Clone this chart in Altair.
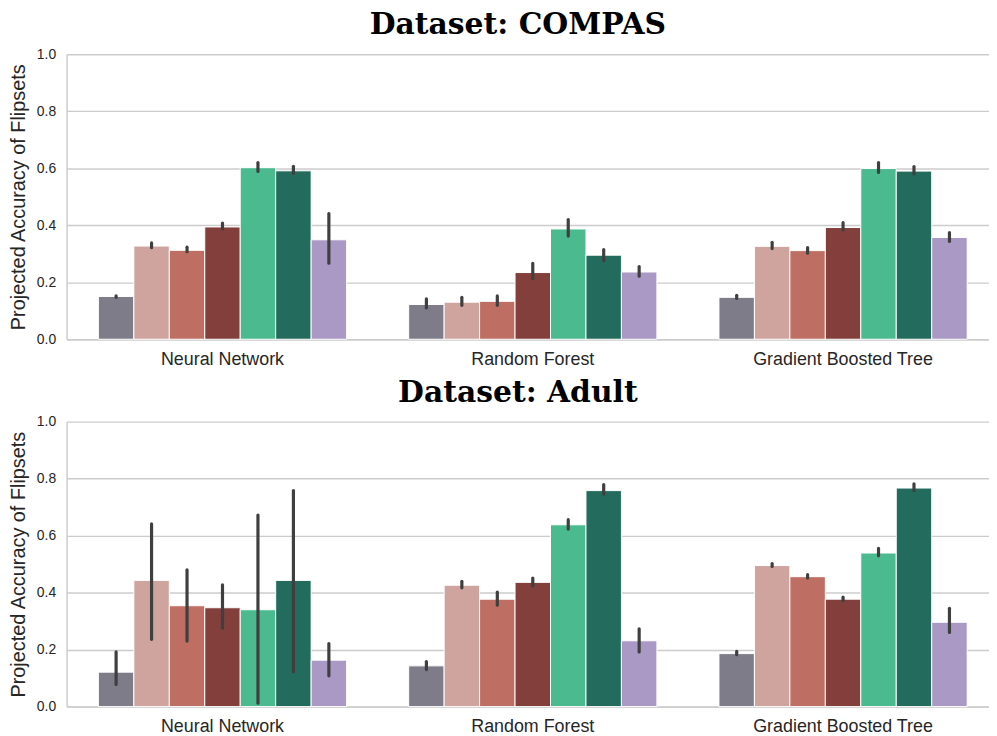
import altair as alt
import pandas as pd

models = ["Neural Network", "Random Forest", "Gradient Boosted Tree"]
series = ["M1", "M2", "M3", "M4", "M5", "M6", "M7"]
colors = ["#7f7c8a", "#cfa49f", "#be6e63", "#823f3b", "#4bbb8f", "#236b5c", "#aa98c5"]
y_ticks = [0.0, 0.2, 0.4, 0.6, 0.8, 1.0]

# Dataset: COMPAS
compas_nn_mean = [0.150, 0.327, 0.312, 0.394, 0.602, 0.591, 0.349]
compas_nn_lo = [0.147, 0.321, 0.307, 0.387, 0.589, 0.582, 0.267]
compas_nn_hi = [0.152, 0.338, 0.323, 0.408, 0.620, 0.607, 0.441]
compas_rf_mean = [0.122, 0.130, 0.133, 0.234, 0.387, 0.295, 0.236]
compas_rf_lo = [0.110, 0.119, 0.119, 0.213, 0.362, 0.276, 0.221]
compas_rf_hi = [0.142, 0.147, 0.152, 0.266, 0.420, 0.315, 0.255]
compas_gb_mean = [0.147, 0.326, 0.311, 0.392, 0.599, 0.590, 0.357]
compas_gb_lo = [0.143, 0.318, 0.302, 0.384, 0.585, 0.580, 0.343]
compas_gb_hi = [0.154, 0.340, 0.322, 0.409, 0.620, 0.606, 0.374]

# Dataset: Adult
adult_nn_mean = [0.121, 0.443, 0.354, 0.347, 0.340, 0.443, 0.163]
adult_nn_lo = [0.078, 0.236, 0.230, 0.275, 0.012, 0.122, 0.108]
adult_nn_hi = [0.192, 0.641, 0.480, 0.427, 0.672, 0.758, 0.221]
adult_rf_mean = [0.143, 0.426, 0.377, 0.436, 0.638, 0.758, 0.231]
adult_rf_lo = [0.130, 0.417, 0.356, 0.424, 0.623, 0.746, 0.192]
adult_rf_hi = [0.158, 0.440, 0.402, 0.451, 0.656, 0.779, 0.273]
adult_gb_mean = [0.186, 0.495, 0.456, 0.377, 0.539, 0.767, 0.296]
adult_gb_lo = [0.182, 0.492, 0.451, 0.372, 0.529, 0.758, 0.260]
adult_gb_hi = [0.194, 0.502, 0.463, 0.384, 0.555, 0.782, 0.345]


def build(groups):
    rows = []
    for model, (mean, lo, hi) in zip(models, groups):
        for s, m, l, h in zip(series, mean, lo, hi):
            rows.append({"model": model, "series": s, "value": m, "lo": l, "hi": h})
    return pd.DataFrame(rows)


compas_df = build([
    (compas_nn_mean, compas_nn_lo, compas_nn_hi),
    (compas_rf_mean, compas_rf_lo, compas_rf_hi),
    (compas_gb_mean, compas_gb_lo, compas_gb_hi),
])
adult_df = build([
    (adult_nn_mean, adult_nn_lo, adult_nn_hi),
    (adult_rf_mean, adult_rf_lo, adult_rf_hi),
    (adult_gb_mean, adult_gb_lo, adult_gb_hi),
])

YTITLE = "Projected Accuracy of Flipsets"


def panel(df, title):
    base = alt.Chart(df).encode(
        x=alt.X(
            "model:N",
            sort=models,
            scale=alt.Scale(paddingInner=0.2, paddingOuter=0.0864, align=0.593),
            axis=alt.Axis(
                title=None, labelAngle=0, labelFontSize=18, labelPadding=11,
                labelLimit=0, ticks=False, domainColor="#cccccc", domainWidth=1.5,
                labelColor="#262626", labelFont="Liberation Sans", grid=False,
            ),
        ),
        xOffset=alt.XOffset("series:N", sort=series,
                            scale=alt.Scale(paddingInner=0, paddingOuter=0)),
    )
    yaxis = alt.Axis(
        values=y_ticks, format=".1f", title=YTITLE, titleFontSize=20,
        titleFontWeight="normal", titleFont="Liberation Sans", titleColor="#262626",
        titlePadding=8, labelFontSize=14, labelFont="Liberation Sans",
        labelColor="#262626", labelPadding=11, ticks=False,
        domainColor="#cccccc", domainWidth=1.5, gridColor="#cccccc", gridWidth=1.4,
    )
    bars = base.mark_bar(stroke="white", strokeWidth=1).encode(
        y=alt.Y("value:Q", scale=alt.Scale(domain=[0, 1]), axis=yaxis, title=YTITLE),
        color=alt.Color("series:N", scale=alt.Scale(domain=series, range=colors), legend=None),
    )
    errs = base.mark_rule(color="#3f3f3f", strokeWidth=3.2, strokeCap="round").encode(
        y=alt.Y("lo:Q", title=YTITLE),
        y2="hi:Q",
    )
    return alt.layer(bars, errs).properties(
        width=929,
        height=287,
        title=alt.TitleParams(
            title, font="DejaVu Serif", fontSize=30, fontWeight="bold",
            color="black", anchor="middle", frame="group", dx=-10, offset=7,
        ),
    )


chart = alt.vconcat(
    panel(compas_df, "Dataset: COMPAS"),
    panel(adult_df, "Dataset: Adult"),
    spacing=10,
).properties(padding={"top": 0, "left": 0, "right": 0, "bottom": 0}).configure_view(stroke=None)

chart.save("out.html", embed_options={"renderer": "svg", "actions": False})
